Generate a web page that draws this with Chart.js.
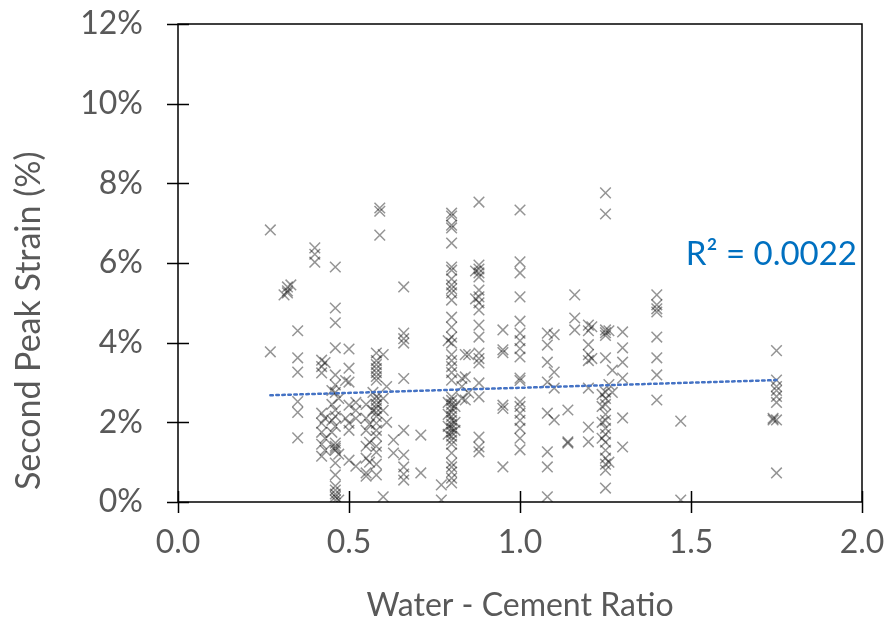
<!DOCTYPE html>
<html>
<head>
<meta charset="utf-8">
<script src="https://cdn.jsdelivr.net/npm/chart.js@4.4.1/dist/chart.umd.min.js"></script>
<style>
  html, body { margin: 0; padding: 0; background: #fff; }
  #wrap { width: 891px; height: 625px; }
</style>
</head>
<body>
<div id="wrap"><canvas id="chart" width="891" height="625"></canvas></div>
<script>
// water-cement ratio of each column of points
const columnX = [0.27, 0.31, 0.32, 0.33, 0.35, 0.40, 0.42, 0.43, 0.45, 0.46, 0.47, 0.49, 0.50, 0.52,
  0.55, 0.56, 0.57, 0.58, 0.59, 0.60, 0.61, 0.63, 0.66, 0.71, 0.77, 0.79, 0.80, 0.81, 0.83, 0.84,
  0.85, 0.87, 0.88, 0.95, 1.00, 1.08, 1.10, 1.14, 1.16, 1.20, 1.21, 1.24, 1.25, 1.26, 1.27, 1.30,
  1.40, 1.47, 1.74, 1.75]

// second peak strain (%) for each column
const columnStrain = [
  [6.83, 3.77],
  [5.20],
  [5.40, 5.30, 5.25],
  [5.45],
  [4.30, 3.62, 3.26, 2.52, 2.25, 1.61],
  [6.38, 6.22, 6.02],
  [3.56, 3.40, 3.24, 2.23, 1.98, 1.75, 1.45, 1.15],
  [3.50, 2.10, 1.60, 1.30],
  [2.80, 2.45, 2.05, 1.75],
  [5.90, 4.87, 4.50, 3.87, 3.19, 2.94, 2.75, 2.31, 2.15, 1.90, 1.48, 1.40, 1.35, 1.30, 0.98, 0.68, 0.40, 0.30, 0.20, 0.13, 0.05],
  [2.60, 1.20, 0.05],
  [3.05, 2.10],
  [3.84, 3.36, 3.01, 2.43, 1.98, 1.80, 1.05],
  [2.50, 2.30, 2.10, 0.90],
  [2.45, 2.10, 1.80, 1.40, 1.10, 0.73, 0.65],
  [1.95, 1.50, 1.00],
  [2.75, 2.30],
  [3.74, 3.55, 3.45, 3.35, 3.25, 3.15, 3.06, 2.64, 2.55, 2.45, 2.35, 2.25, 2.15, 1.98, 1.80, 1.65, 1.40, 1.25, 0.95, 0.68],
  [7.38, 7.30, 6.70],
  [3.70, 2.60, 2.30, 0.13],
  [2.90, 2.00],
  [1.56, 1.23],
  [5.40, 4.24, 4.10, 3.99, 3.10, 1.80, 1.18, 0.88, 0.70, 0.55],
  [1.68, 0.73],
  [0.43, 0.05],
  [4.05, 2.50, 2.20, 1.90, 1.70],
  [7.25, 7.18, 6.95, 6.88, 6.50, 5.90, 5.82, 5.60, 5.45, 5.35, 5.25, 5.07, 4.64, 4.39, 4.14, 3.99, 3.70, 3.55, 3.40, 3.25,
   3.06, 2.64, 2.55, 2.45, 2.35, 2.25, 2.15, 2.05, 1.95, 1.85, 1.75, 1.65, 1.55, 1.45, 1.23, 0.98, 0.88, 0.75, 0.60, 0.48],
  [2.40, 2.00, 1.80],
  [3.10, 2.90, 2.60],
  [3.70, 3.14, 2.56],
  [3.70, 2.74],
  [5.80, 5.10],
  [7.53, 5.95, 5.85, 5.75, 5.65, 5.32, 5.15, 5.00, 4.82, 4.44, 4.14, 3.74, 3.60, 3.49, 2.99, 2.64, 1.63, 1.38, 1.26],
  [4.32, 3.82, 3.75, 2.43, 2.35, 0.88],
  [7.33, 6.03, 5.75, 5.15, 4.54, 4.24, 4.05, 3.85, 3.64, 3.11, 3.05, 2.51, 2.40, 2.23, 2.05, 1.85, 1.60, 1.31],
  [4.24, 3.94, 3.51, 3.01, 2.23, 1.26, 0.88, 0.13],
  [4.20, 3.26, 2.86, 2.06],
  [2.31, 1.51, 1.48],
  [5.20, 4.62, 4.32],
  [4.44, 4.30, 3.95, 3.70, 3.55, 2.86, 1.88, 1.51],
  [4.40, 3.60],
  [2.70, 2.40, 2.00, 1.60],
  [7.76, 7.23, 4.32, 4.25, 4.18, 3.62, 2.76, 2.60, 2.45, 2.20, 2.05, 1.85, 1.70, 1.50, 1.30, 1.10, 0.95, 0.80, 0.35],
  [4.30, 2.95, 1.00],
  [3.31, 2.75],
  [4.27, 3.87, 3.51, 3.11, 2.11, 1.38],
  [5.20, 4.95, 4.85, 4.77, 4.14, 3.62, 3.19, 2.56],
  [2.03, 0.05],
  [2.06, 2.10],
  [3.80, 3.06, 2.90, 2.80, 2.65, 2.50, 2.06, 0.73]
]

// linear trendline end points
const trendX = [0.27, 1.75]
const trendY = [2.68, 3.06]
const trendLabel = 'R² = 0.0022'

const xTicks = [0, 0.5, 1.0, 1.5, 2.0]
const yTicks = [0, 2, 4, 6, 8, 10, 12]
const yTitle = 'Second Peak Strain (%)'

const points = []
columnX.forEach((x, i) => {
  columnStrain[i].forEach(y => points.push({x: x, y: y}))
})

const textGray = '#595959'
const fontName = 'Lato'

// Excel-like cross ticks + box frame + y title + R² label
const frameAndTicks = {
  id: 'frameAndTicks',
  afterDraw(chart) {
    const {ctx, chartArea: a, scales} = chart
    ctx.save()
    ctx.strokeStyle = '#000'
    ctx.lineWidth = 1.5
    ctx.strokeRect(a.left, a.top, a.right - a.left, a.bottom - a.top)
    ctx.beginPath()
    yTicks.forEach(v => {
      const y = Math.round(scales.y.getPixelForValue(v)) + 0.5
      ctx.moveTo(a.left - 11, y)
      ctx.lineTo(a.left + 11, y)
    })
    xTicks.forEach(v => {
      const x = Math.round(scales.x.getPixelForValue(v)) + 0.5
      ctx.moveTo(x, a.bottom - 11)
      ctx.lineTo(x, a.bottom + 11)
    })
    ctx.stroke()

    // y axis title, sits a bit below the middle of the plot like the original
    ctx.save()
    ctx.translate(29, scales.y.getPixelForValue(4.55))
    ctx.rotate(-Math.PI / 2)
    ctx.fillStyle = textGray
    ctx.font = '34px ' + fontName
    ctx.textAlign = 'center'
    ctx.textBaseline = 'middle'
    ctx.fillText(yTitle, 0, 0)
    ctx.restore()

    ctx.fillStyle = '#0070C0'
    ctx.font = '33px ' + fontName
    ctx.textAlign = 'right'
    ctx.textBaseline = 'middle'
    ctx.fillText(trendLabel, scales.x.getPixelForValue(2.0) - 5, scales.y.getPixelForValue(6.22))
    ctx.restore()
  }
}

new Chart(document.getElementById('chart'), {
  type: 'scatter',
  data: {
    datasets: [{
      label: 'Second Peak Strain',
      data: points,
      pointStyle: 'crossRot',
      pointRadius: 7.5,
      borderColor: 'rgba(0,0,0,0.42)',
      backgroundColor: 'rgba(0,0,0,0)',
      pointBorderWidth: 1.5,
      order: 2
    }, {
      type: 'line',
      label: 'Trend',
      data: trendX.map((x, i) => ({x: x, y: trendY[i]})),
      borderColor: '#4472C4',
      borderWidth: 2.5,
      borderDash: [2.5, 3.5],
      borderCapStyle: 'round',
      pointRadius: 0,
      fill: false,
      order: 1
    }]
  },
  options: {
    responsive: false,
    animation: false,
    layout: {
      padding: {top: 24, right: 29, left: 0, bottom: 0}
    },
    scales: {
      x: {
        type: 'linear',
        min: 0,
        max: 2,
        afterBuildTicks: (axis) => { axis.ticks = xTicks.map(v => ({value: v})) },
        afterFit: (axis) => {
          axis.height = 123
          axis.paddingLeft = 0
          axis.paddingRight = 0
        },
        border: {display: false},
        grid: {display: false, drawOnChartArea: false},
        ticks: {
          padding: 13,
          color: textGray,
          font: {family: fontName, size: 32},
          callback: (v) => v.toFixed(1)
        },
        title: {
          display: true,
          text: 'Water - Cement Ratio',
          color: textGray,
          font: {family: fontName, size: 32},
          padding: {top: 4, bottom: 0}
        }
      },
      y: {
        type: 'linear',
        min: 0,
        max: 12,
        afterBuildTicks: (axis) => { axis.ticks = yTicks.map(v => ({value: v})) },
        afterFit: (axis) => {
          axis.width = 178
          axis.paddingTop = 0
          axis.paddingBottom = 0
        },
        border: {display: false},
        grid: {display: false, drawOnChartArea: false},
        ticks: {
          padding: 27,
          color: textGray,
          font: {family: fontName, size: 32},
          callback: (v) => v + '%'
        },
        title: {display: false}
      }
    },
    plugins: {
      legend: {display: false},
      tooltip: {enabled: false}
    }
  },
  plugins: [frameAndTicks]
});
</script>
</body>
</html>
